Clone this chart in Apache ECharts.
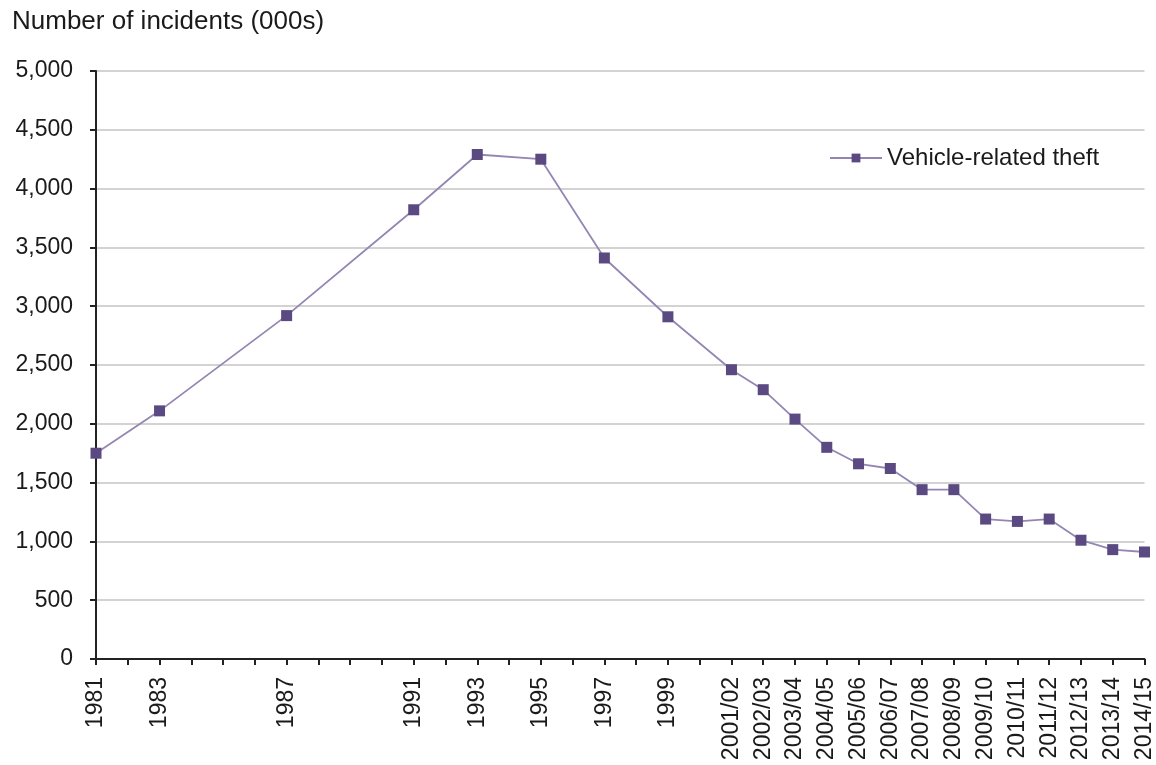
<!DOCTYPE html>
<html>
<head>
<meta charset="utf-8">
<script src="https://cdn.jsdelivr.net/npm/echarts@6/dist/echarts.min.js"></script>
<style>
  html, body { margin: 0; padding: 0; background: #fff; }
  #chart { width: 1156px; height: 765px; }
</style>
</head>
<body>
<div id="chart"></div>
<script>
// one slot per survey year; gaps are years with no survey
var years = ['1981', '1982', '1983', '1984', '1985', '1986', '1987', '1988', '1989', '1990',
  '1991', '1992', '1993', '1994', '1995', '1996', '1997', '1998', '1999', '2000',
  '2001/02', '2002/03', '2003/04', '2004/05', '2005/06', '2006/07', '2007/08', '2008/09',
  '2009/10', '2010/11', '2011/12', '2012/13', '2013/14', '2014/15'];
var theft = [1750, null, 2110, null, null, null, 2920, null, null, null,
  3820, null, 4290, null, 4250, null, 3410, null, 2910, null,
  2460, 2290, 2040, 1800, 1660, 1620, 1440, 1440,
  1190, 1170, 1190, 1010, 930, 910];
var seriesName = 'Vehicle-related theft';
var yTicks = [0, 5000, 500];

var font = '"Liberation Sans", Arial, sans-serif';
var myChart = echarts.init(document.getElementById('chart'));
var option = {
  animation: false,
  textStyle: { fontFamily: font },
  title: {
    text: 'Number of incidents (000s)',
    left: 7,
    top: 4,
    textStyle: { fontFamily: font, fontSize: 26, fontWeight: 'normal', color: '#1a1a1a' }
  },
  legend: {
    left: 824,
    top: 141,
    itemWidth: 52,
    itemHeight: 11,
    itemGap: 5,
    textStyle: { fontFamily: font, fontSize: 24, color: '#1a1a1a' },
    data: [seriesName]
  },
  grid: {
    left: 96,
    right: 11,
    top: 71,
    bottom: 106,
    containLabel: false
  },
  xAxis: {
    type: 'category',
    boundaryGap: false,
    data: years,
    axisLine: { lineStyle: { color: '#222', width: 2 } },
    axisTick: { interval: 0, length: 6, lineStyle: { color: '#222', width: 2 } },
    axisLabel: {
      interval: 0,
      rotate: 90,
      margin: 18,
      fontSize: 23,
      color: '#1a1a1a',
      formatter: function (value, idx) {
        return theft[idx] == null ? '' : value;
      }
    },
    splitLine: { show: false }
  },
  yAxis: {
    type: 'value',
    min: yTicks[0],
    max: yTicks[1],
    interval: yTicks[2],
    axisLine: { show: true, lineStyle: { color: '#222', width: 2 } },
    axisTick: { show: true, length: 6, lineStyle: { color: '#222', width: 2 } },
    axisLabel: {
      margin: 23,
      fontSize: 23,
      color: '#1a1a1a',
      formatter: function (v) { return v.toLocaleString('en-GB'); }
    },
    splitLine: { lineStyle: { color: '#c4c4c4', width: 1.5 } }
  },
  series: [{
    name: seriesName,
    type: 'line',
    data: theft,
    connectNulls: true,
    symbol: 'rect',
    symbolSize: 11,
    lineStyle: { color: '#9486b3', width: 1.8 },
    itemStyle: { color: '#5b4982' }
  }]
};
myChart.setOption(option);
</script>
</body>
</html>
